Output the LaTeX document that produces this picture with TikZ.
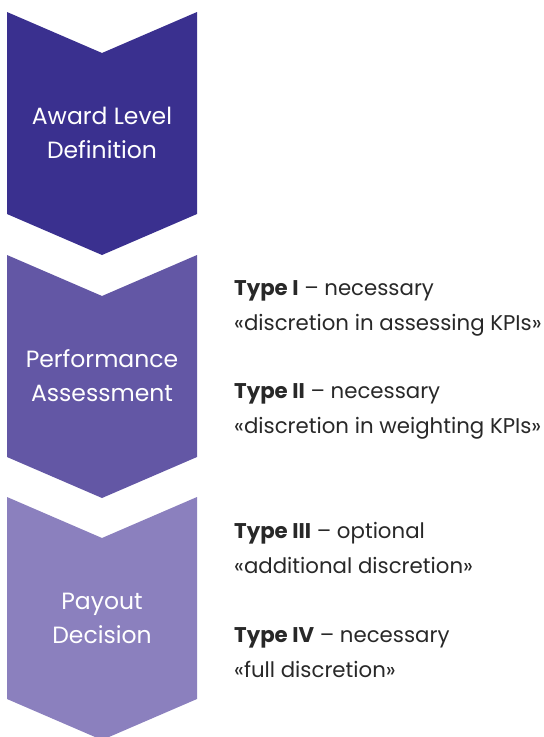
\documentclass[tikz,border=0pt]{standalone}
\usepackage{fontspec}
\setmainfont{Poppins}
\usepackage{tikz}
\usetikzlibrary{positioning}

\definecolor{stepdark}{RGB}{58,48,143}
\definecolor{stepmid}{RGB}{99,87,165}
\definecolor{steplight}{RGB}{139,128,190}
\definecolor{typetext}{RGB}{40,40,40}

\tikzset{
    chevtext/.style={text=white, align=center, font=\fontsize{23.5}{34}\selectfont},
    typetext/.style={text=typetext, align=left, anchor=west, inner sep=0pt,
        font=\fontsize{21.3}{35}\selectfont}
}

\begin{document}
\begin{tikzpicture}[x=1pt, y=-1pt]
    \useasboundingbox (0,0) rectangle (544,737);

    % the three chevrons
    \foreach \top/\col in {12/stepdark, 255/stepmid, 497/steplight}
        \fill[\col] (7,\top) -- ++(95,41) -- ++(95,-41) -- ++(0,202)
            -- ++(-95,41) -- ++(-95,-41) -- cycle;

    \node[chevtext](award) at (102,133) {Award Level\\Definition};
    \node[chevtext](perf) at (102,376) {Performance\\Assessment};
    \node[chevtext](payout) at (102,618) {Payout\\Decision};

    \node[typetext](type1) at (234,308) {\textbf{Type I} -- necessary\\«discretion in assessing KPIs»};
    \node[typetext](type2) at (234,411) {\textbf{Type II} -- necessary\\«discretion in weighting KPIs»};
    \node[typetext](type3) at (234,548) {\textbf{Type III} -- optional\\«additional discretion»};
    \node[typetext](type4) at (234,653) {\textbf{Type IV} -- necessary\\«full discretion»};
\end{tikzpicture}
\end{document}
